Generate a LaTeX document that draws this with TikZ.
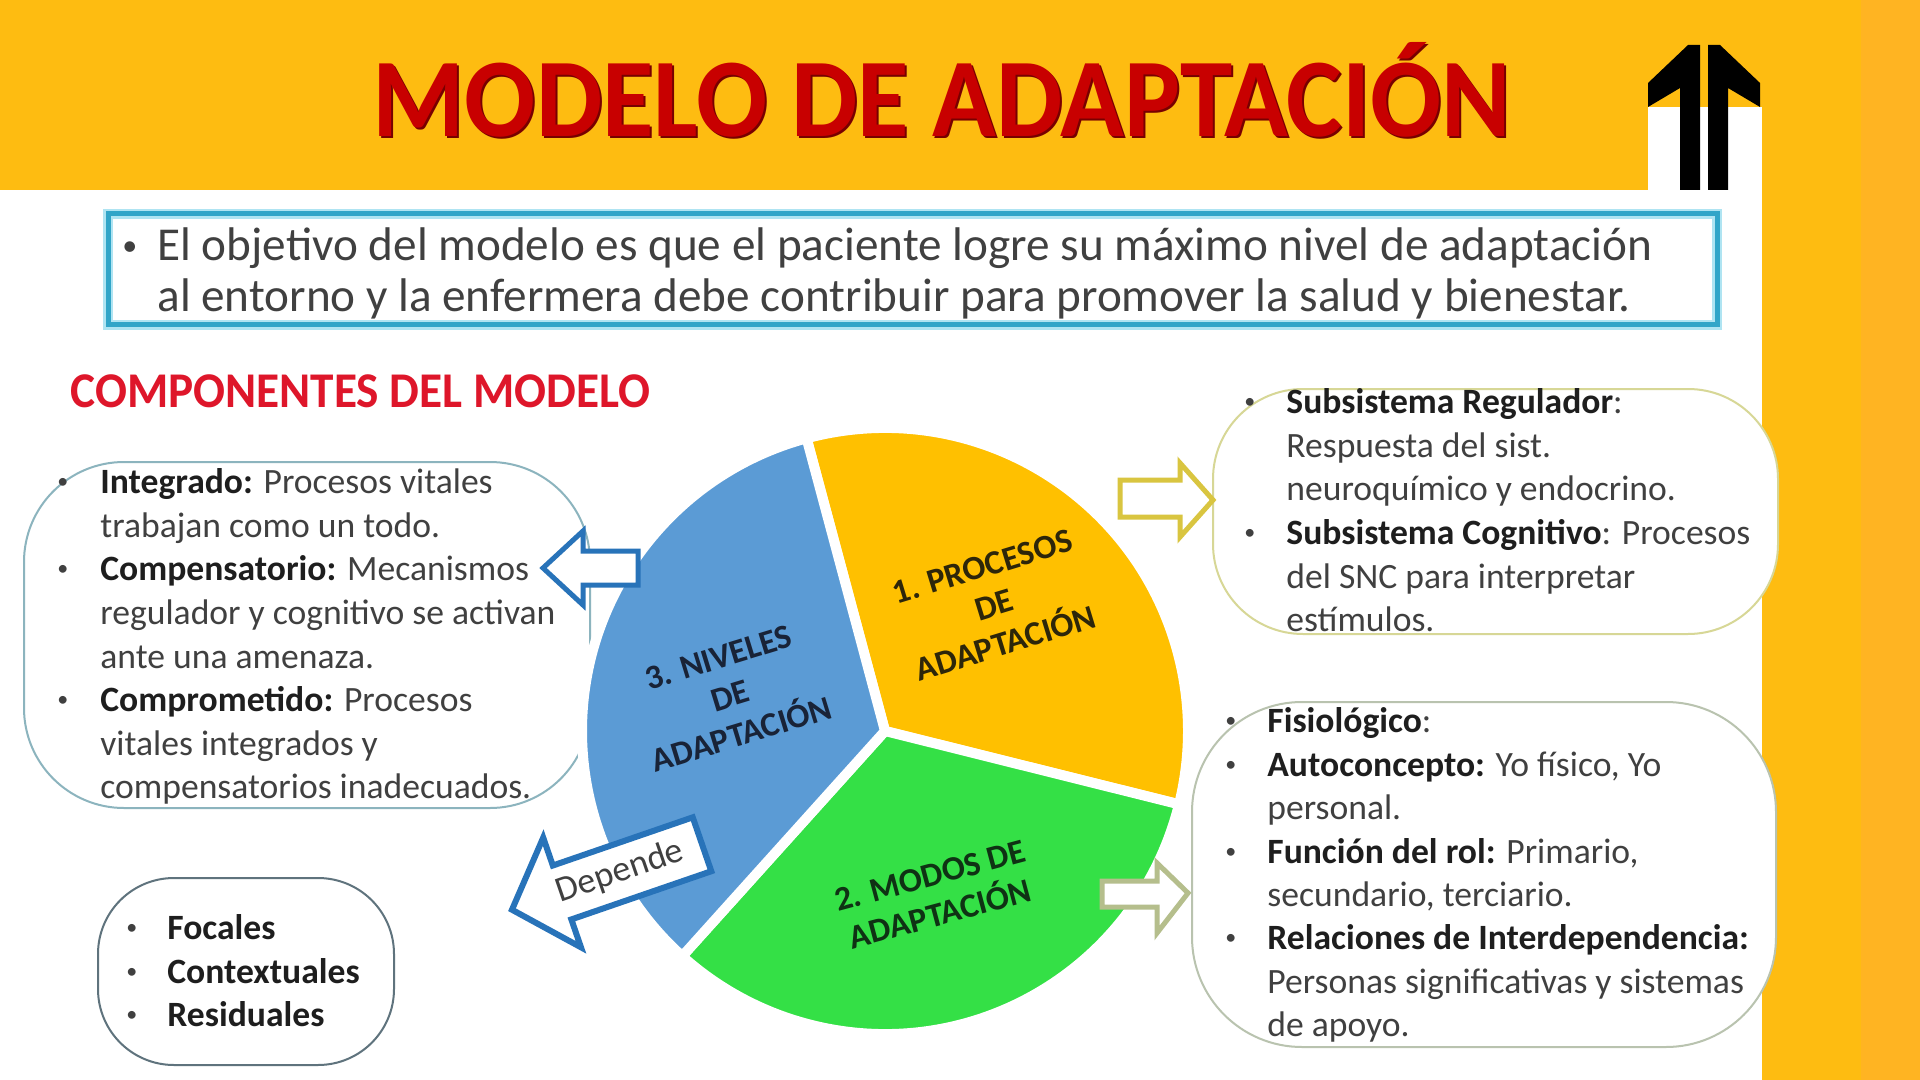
\documentclass[tikz,border=0pt]{standalone}
\usepackage{fontspec}
\setmainfont{Carlito}
\definecolor{bandY}{RGB}{254,188,17}
\definecolor{bandO}{RGB}{255,180,34}
\definecolor{titlered}{RGB}{200,0,0}
\definecolor{titleshadow}{RGB}{120,0,0}
\definecolor{compred}{RGB}{222,22,42}
\definecolor{objblue}{RGB}{49,165,200}
\definecolor{objhalo}{RGB}{175,228,242}
\definecolor{txtgray}{RGB}{64,64,64}
\definecolor{boldtxt}{RGB}{30,30,30}
\definecolor{pieY}{RGB}{255,192,0}
\definecolor{pieB}{RGB}{91,155,213}
\definecolor{pieG}{RGB}{52,224,70}
\definecolor{arrBlue}{RGB}{40,115,185}
\definecolor{arrYel}{RGB}{217,197,64}
\definecolor{arrGrn}{RGB}{181,190,140}
\definecolor{boxL}{RGB}{140,180,190}
\definecolor{boxTR}{RGB}{215,215,150}
\definecolor{boxBR}{RGB}{185,195,175}
\definecolor{boxF}{RGB}{95,115,125}
\newcommand\hb[1]{\textcolor{boldtxt}{\textbf{#1}}}
\newcommand\smallbul{\raisebox{2.2pt}{\fontsize{11}{11}\selectfont •}}
\newcommand\titletext{\scalebox{0.94}[1]{MODELO DE ADAPTACIÓN}}
\begin{document}
\begin{tikzpicture}[x=0.5pt,y=-0.5pt,
  txt/.style={anchor=base west, inner sep=0pt, text=txtgray, font=\fontsize{17.8}{21}\selectfont},
  bul/.style={anchor=base west, inner sep=0pt, text=txtgray, font=\fontsize{17.8}{21}\selectfont},
  objtxt/.style={anchor=base west, inner sep=0pt, text=txtgray, font=\fontsize{23.6}{28}\selectfont},
  pielbl/.style={align=center, inner sep=0pt, font=\bfseries\fontsize{17}{20}\selectfont},
  roundbox/.style={line width=1pt, fill=white},
  blockarrow/.style={fill=white, line width=2.5pt, line join=miter}
]
\useasboundingbox (0,0) rectangle (1920,1080);
\fill[white] (0,0) rectangle (1920,1080);
% yellow frame
\fill[bandY] (0,0) rectangle (1648,190);
\fill[bandY] (1640,0) rectangle (1770,107);
\fill[bandY] (1762,0) rectangle (1862,1080);
\fill[bandO] (1861,0) rectangle (1920,1080);
% black double arrow
\fill[black] (1648,107) -- (1648,83) -- (1688,45) -- (1700,45) -- (1700,190) -- (1680,190) -- (1680,88) -- cycle;
\fill[black] (1760,107) -- (1760,83) -- (1720,45) -- (1708,45) -- (1708,190) -- (1728,190) -- (1728,88) -- cycle;
% title
\node[anchor=base, inner sep=0pt, font=\bfseries\fontsize{56}{64}\selectfont, text=titleshadow] (titleshadow) at (944,139) {\titletext};
\node[anchor=base, inner sep=0pt, font=\bfseries\fontsize{56}{64}\selectfont, text=titlered] (title) at (942,137) {\titletext};
% objective box
\draw[objhalo, line width=5pt] (108,214) rectangle (1717,325);
\draw[objblue, line width=2.5pt] (108,214) rectangle (1717,325);
\node[objtxt] (ob0) at (122,261) {\raisebox{2.6pt}{\fontsize{15}{15}\selectfont •}};
\node[objtxt] (ob1) at (157,261) {El objetivo del modelo es que el paciente logre su máximo nivel de adaptación};
\node[objtxt] (ob2) at (157,312) {al entorno y la enfermera debe contribuir para promover la salud y bienestar.};
% components heading
\node[anchor=base west, inner sep=0pt, font=\bfseries\fontsize{25}{30}\selectfont, text=compred] (comp) at (70,408) {\scalebox{0.945}[1]{COMPONENTES DEL MODELO}};
% boxes
\draw[roundbox, draw=boxL, rounded corners=50] (24,462) rectangle (590,808);
\draw[roundbox, draw=boxTR, rounded corners=45] (1213,389) rectangle (1778,634);
\draw[roundbox, draw=boxBR, rounded corners=55] (1192,702) rectangle (1776,1047);
\draw[roundbox, draw=boxF, rounded corners=38] (98,878) rectangle (394,1065);
% pie
\coordinate (pc) at (885,731);
\fill[pieY, draw=white, line width=5pt, line join=round] (pc) -- ++(-105:303) arc[start angle=-105, end angle=14, radius=303] -- cycle;
\fill[pieG, draw=white, line width=5pt, line join=round] (pc) -- ++(14:303) arc[start angle=14, end angle=132, radius=303] -- cycle;
\fill[pieB, draw=white, line width=5pt, line join=round] (pc) -- ++(132:303) arc[start angle=132, end angle=255, radius=303] -- cycle;
\node[pielbl, rotate=17, text={rgb,255:red,45;green,38;blue,10}] (lblY) at (994,605) {1. PROCESOS\\DE\\ADAPTACIÓN};
\node[pielbl, rotate=17, text={rgb,255:red,25;green,35;blue,55}] (lblB) at (730,696) {3. NIVELES\\DE\\ADAPTACIÓN};
\node[pielbl, rotate=15, text={rgb,255:red,15;green,50;blue,20}] (lblG) at (935,895) {2. MODOS DE\\ADAPTACIÓN};
% block arrows
\draw[blockarrow, draw=arrBlue] (543,568) -- (583,531) -- (583,551) -- (638,551) -- (638,585) -- (583,585) -- (583,605) -- cycle;
\draw[blockarrow, draw=arrYel] (1213,500) -- (1180,463) -- (1180,480) -- (1120,480) -- (1120,517) -- (1180,517) -- (1180,537) -- cycle;
\draw[blockarrow, draw=arrGrn] (1188,893) -- (1157,863) -- (1157,881) -- (1102,881) -- (1102,907) -- (1157,907) -- (1157,933) -- cycle;
\begin{scope}[shift={(607,877)}, rotate=19]
\draw[blockarrow, line width=3pt, draw=arrBlue] (-100.5,0) -- (-47.5,-58) -- (-47.5,-28.5) -- (100.5,-28.5) -- (100.5,28.5) -- (-47.5,28.5) -- (-47.5,58) -- cycle;
\end{scope}
\node[inner sep=0pt, rotate=19, text=txtgray, font=\fontsize{18}{21}\selectfont] (dep) at (620,872) {Depende};
% left box text
\node[bul] (l1b) at (57,493) {\smallbul};
\node[txt] (l1) at (100,493) {\hb{Integrado:} Procesos vitales};
\node[txt] (l2) at (100,537) {trabajan como un todo.};
\node[bul] (l3b) at (57,580) {\smallbul};
\node[txt] (l3) at (100,580) {\hb{Compensatorio:} Mecanismos};
\node[txt] (l4) at (100,624) {regulador y cognitivo se activan};
\node[txt] (l5) at (100,668) {ante una amenaza.};
\node[bul] (l6b) at (57,711) {\smallbul};
\node[txt] (l6) at (100,711) {\hb{Comprometido:} Procesos};
\node[txt] (l7) at (100,755) {vitales integrados y};
\node[txt] (l8) at (100,798) {compensatorios inadecuados.};
% top right box text
\node[bul] (r1b) at (1244,413) {\smallbul};
\node[txt] (r1) at (1286,413) {\hb{Subsistema Regulador}:};
\node[txt] (r2) at (1286,457) {Respuesta del sist.};
\node[txt] (r3) at (1286,500) {neuroquímico y endocrino.};
\node[bul] (r4b) at (1244,544) {\smallbul};
\node[txt] (r4) at (1286,544) {\hb{Subsistema Cognitivo}: Procesos};
\node[txt] (r5) at (1286,588) {del SNC para interpretar};
\node[txt] (r6) at (1286,631) {estímulos.};
% bottom right box text
\node[bul] (m1b) at (1225,732) {\smallbul};
\node[txt] (m1) at (1267,732) {\hb{Fisiológico}:};
\node[bul] (m2b) at (1225,776) {\smallbul};
\node[txt] (m2) at (1267,776) {\hb{Autoconcepto:} Yo físico, Yo};
\node[txt] (m3) at (1267,819) {personal.};
\node[bul] (m4b) at (1225,863) {\smallbul};
\node[txt] (m4) at (1267,863) {\hb{Función del rol:} Primario,};
\node[txt] (m5) at (1267,906) {secundario, terciario.};
\node[bul] (m6b) at (1225,949) {\smallbul};
\node[txt] (m6) at (1267,949) {\hb{Relaciones de Interdependencia:}};
\node[txt] (m7) at (1267,993) {Personas significativas y sistemas};
\node[txt] (m8) at (1267,1036) {de apoyo.};
% focales box text
\node[bul] (f1b) at (126,939) {\smallbul};
\node[txt] (f1) at (167,939) {\hb{Focales}};
\node[bul] (f2b) at (126,983) {\smallbul};
\node[txt] (f2) at (167,983) {\hb{Contextuales}};
\node[bul] (f3b) at (126,1026) {\smallbul};
\node[txt] (f3) at (167,1026) {\hb{Residuales}};
\end{tikzpicture}
\end{document}
